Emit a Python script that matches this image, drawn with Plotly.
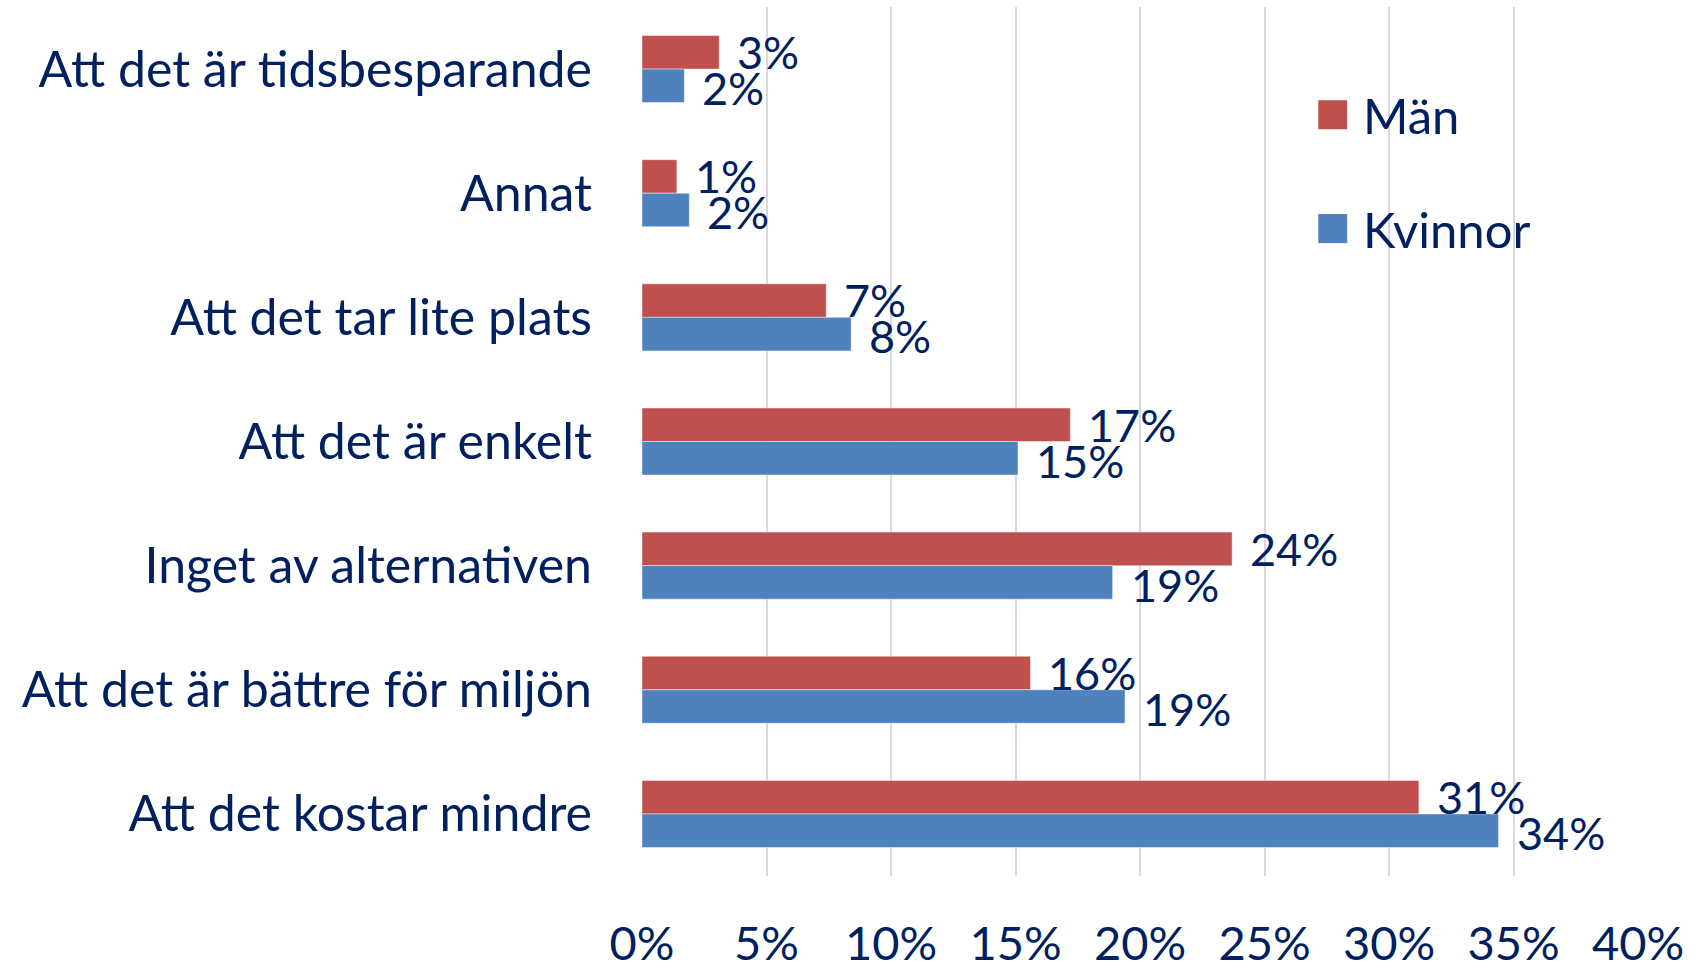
import plotly.graph_objects as go

categories = [
    "Att det är tidsbesparande",
    "Annat",
    "Att det tar lite plats",
    "Att det är enkelt",
    "Inget av alternativen",
    "Att det är bättre för miljön",
    "Att det kostar mindre",
]
man_values = [0.031, 0.014, 0.074, 0.172, 0.237, 0.156, 0.312]
kvinnor_values = [0.017, 0.019, 0.084, 0.151, 0.189, 0.194, 0.344]
series_names = ["Män", "Kvinnor"]
x_ticks = [0, 0.05, 0.10, 0.15, 0.20, 0.25, 0.30, 0.35, 0.40]
x_tick_labels = ["0%", "5%", "10%", "15%", "20%", "25%", "30%", "35%", "40%"]

MAN_COLOR = "#C0504D"
KV_COLOR = "#4F81BD"
TXT = "#002060"
FONT = "Lato"

fig = go.Figure()
fig.add_trace(go.Bar(
    y=categories, x=man_values, orientation="h", name=series_names[0],
    marker=dict(color=MAN_COLOR, line=dict(color="rgba(255,255,255,0.45)", width=1)),
    showlegend=False,
))
fig.add_trace(go.Bar(
    y=categories, x=kvinnor_values, orientation="h", name=series_names[1],
    marker=dict(color=KV_COLOR, line=dict(color="rgba(255,255,255,0.45)", width=1)),
    showlegend=False,
))

annotations = []
for cat, v in zip(categories, man_values):
    annotations.append(dict(x=v, y=cat, xref="x", yref="y", text=f"{round(v*100)}%",
                            showarrow=False, xanchor="left", yanchor="middle",
                            xshift=16, yshift=17, font=dict(family=FONT, size=45, color=TXT)))
for cat, v in zip(categories, kvinnor_values):
    annotations.append(dict(x=v, y=cat, xref="x", yref="y", text=f"{round(v*100)}%",
                            showarrow=False, xanchor="left", yanchor="middle",
                            xshift=16, yshift=-19, font=dict(family=FONT, size=45, color=TXT)))

# manual legend
legend_items = [(series_names[0], MAN_COLOR, 0.876), (series_names[1], KV_COLOR, 0.745)]
shapes = []
for name, col, yc in legend_items:
    shapes.append(dict(type="rect", xref="paper", yref="paper",
                       x0=0.679, x1=0.708, y0=yc - 0.0167, y1=yc + 0.0167,
                       fillcolor=col, line=dict(width=0)))
    annotations.append(dict(x=0.722, y=yc, xref="paper", yref="paper", text=name,
                            showarrow=False, xanchor="left", yanchor="middle",
                            font=dict(family=FONT, size=49, color=TXT)))

fig.update_layout(
    width=1695, height=966,
    margin=dict(l=642, r=57, t=7, b=90, autoexpand=False),
    paper_bgcolor="white", plot_bgcolor="white",
    barmode="group", bargap=0.46, bargroupgap=0,
    showlegend=False,
    annotations=annotations, shapes=shapes,
    font=dict(family=FONT, color=TXT),
)
fig.update_xaxes(
    range=[0, 0.40], tickvals=x_ticks, ticktext=x_tick_labels,
    showgrid=True, gridcolor="#D9D9D9", gridwidth=2, zeroline=False,
    showline=False, ticks="", tickfont=dict(family=FONT, size=47, color=TXT),
    ticklabelstandoff=36,
)
fig.update_yaxes(
    autorange="reversed", showgrid=False, zeroline=False, showline=False, ticks="",
    tickfont=dict(family=FONT, size=50, color=TXT), ticklabelstandoff=49,
)

fig.write_html("out.html", config={"displayModeBar": False},
               post_script="document.body.style.margin='0';document.body.style.overflow='hidden';")
